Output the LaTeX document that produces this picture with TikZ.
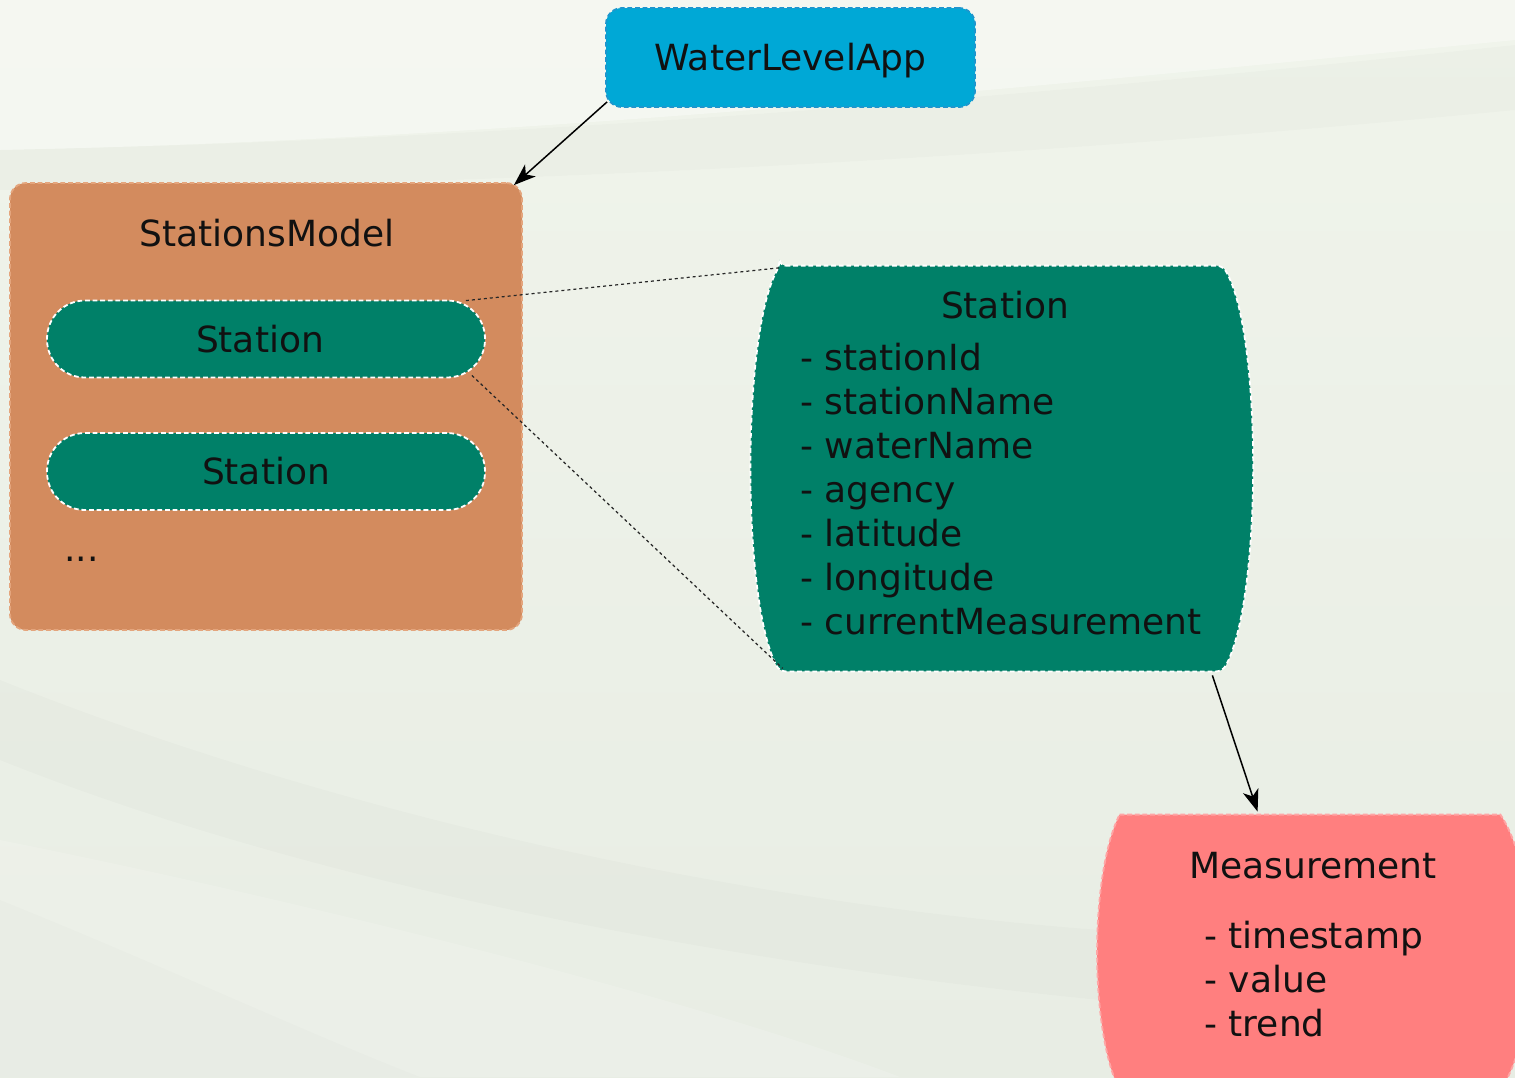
\documentclass[tikz,border=0pt]{standalone}
\usepackage{fontspec}
\setmainfont{DejaVu Sans}
\usetikzlibrary{arrows.meta,calc}
\definecolor{bgA}{RGB}{240,244,235}
\definecolor{bgB}{RGB}{232,237,228}
\definecolor{appblue}{RGB}{0,168,214}
\definecolor{appedge}{RGB}{30,150,205}
\definecolor{modelorange}{RGB}{211,139,94}
\definecolor{modeledge}{RGB}{228,165,125}
\definecolor{stgreen}{RGB}{0,128,104}
\definecolor{measred}{RGB}{255,127,127}
\definecolor{measedge}{RGB}{255,165,165}
\definecolor{inktext}{RGB}{17,17,17}
\begin{document}
\begin{tikzpicture}[x=0.5pt,y=-0.5pt,
  font=\fontsize{18}{22}\selectfont, text=inktext,
  dashedge/.style={line width=0.9pt, dash pattern=on 2.4pt off 1.4pt},
  appbox/.style={shape=rectangle, rounded corners=8pt, fill=appblue, draw=appedge, dashedge,
     minimum width=184.5pt, minimum height=49.5pt, inner sep=0pt, text height=13.3pt, text depth=0pt},
  modelbox/.style={shape=rectangle, rounded corners=8pt, fill=modelorange, draw=modeledge, dashedge,
     minimum width=256pt, minimum height=223.5pt, inner sep=0pt},
  pillbox/.style={shape=rectangle, rounded corners=19pt, fill=stgreen, draw=white, dashedge,
     minimum width=219pt, minimum height=38.5pt, inner sep=0pt, text height=13.3pt, text depth=0pt},
  frame/.style={shape=rectangle, draw=none, inner sep=0pt},
  txt/.style={inner sep=0pt},
  link/.style={draw=black, line width=0.75pt, -{Stealth[length=11pt,width=8pt,inset=3pt]}},
  zoomline/.style={draw=black!85, line width=0.6pt, dash pattern=on 1.5pt off 1.5pt}
]
\useasboundingbox (0,0) rectangle (1515,1077);
\begin{scope}
\clip (0,0) rectangle (1515,1077);
% background
\shade[top color=bgA, bottom color=bgB] (0,0) rectangle (1515,1077);
\fill[white, opacity=0.35] (0,0) -- (1515,0) -- (1515,40) .. controls (1000,90) and (500,140) .. (0,150) -- cycle;
\fill[black, opacity=0.015] (0,150) .. controls (500,140) and (1000,100) .. (1515,45) -- (1515,110) .. controls (1000,160) and (500,185) .. (0,190) -- cycle;
\fill[black, opacity=0.015] (0,680) .. controls (300,800) and (700,900) .. (1100,930) -- (1100,1000) .. controls (700,960) and (300,880) .. (0,760) -- cycle;
\fill[white, opacity=0.15] (0,840) .. controls (300,900) and (700,1000) .. (900,1077) -- (0,1077) -- cycle;
\fill[black, opacity=0.012] (0,900) .. controls (150,960) and (300,1030) .. (420,1077) -- (0,1077) -- cycle;

% nodes
\node[appbox] (app) at (790.5,57.5) {WaterLevelApp};
\node[modelbox] (sm) at (266,406.5) {};
\node[txt, anchor=base] (smtitle) at (267,246) {StationsModel};
\node[pillbox] (s1) at (266,339) {\hspace*{-6pt}Station};
\node[pillbox] (s2) at (266,471.5) {Station};
\node[txt, anchor=base west] (dots) at (64,561) {...};

% big station (barrel)
\node[frame, minimum width=221pt, minimum height=202.5pt] (st) at (1001,468.5) {};
\fill[stgreen, rounded corners=3pt] (st.north west) -- (st.north east)
   .. controls ($(st.north east)+(40,65)$) and ($(st.south east)+(40,-70)$) .. (st.south east)
   -- (st.south west)
   .. controls ($(st.south west)+(-38,-70)$) and ($(st.north west)+(-38,70)$) .. (st.north west) -- cycle;
\draw[white, dashedge, rounded corners=3pt] (st.north west) -- (st.north east)
   .. controls ($(st.north east)+(40,65)$) and ($(st.south east)+(40,-70)$) .. (st.south east)
   -- (st.south west)
   .. controls ($(st.south west)+(-38,-70)$) and ($(st.north west)+(-38,70)$) .. (st.north west) -- cycle;
\node[txt, anchor=base] (sttitle) at (1005,318) {Station};
\foreach \t [count=\i from 0] in {stationId,stationName,waterName,agency,latitude,longitude,currentMeasurement}
  \node[txt, anchor=base west] (attr\i) at (800,370+44*\i) {- \t};

% measurement (barrel)
\node[frame, minimum width=190pt, minimum height=137.5pt] (ms) at (1310,952.5) {};
\fill[measred] (ms.north west) -- (ms.north east)
   .. controls ($(ms.north east)+(40,60)$) and ($(ms.south east)+(40,-60)$) .. (ms.south east)
   -- (ms.south west)
   .. controls ($(ms.south west)+(-30,-60)$) and ($(ms.north west)+(-30,60)$) .. (ms.north west) -- cycle;
\draw[measedge, dashedge] (ms.north west) -- (ms.north east)
   .. controls ($(ms.north east)+(40,60)$) and ($(ms.south east)+(40,-60)$) .. (ms.south east)
   -- (ms.south west)
   .. controls ($(ms.south west)+(-30,-60)$) and ($(ms.north west)+(-30,60)$) .. (ms.north west) -- cycle;
\node[txt, anchor=base] (mstitle) at (1313,878) {Measurement};
\node[txt, anchor=base west] (m0) at (1204,948) {- timestamp};
\node[txt, anchor=base west] (m1) at (1204,992) {- value};
\node[txt, anchor=base west] (m2) at (1204,1036) {- trend};

% connectors
\draw[link] ($(app.south west)+(2,-6)$) -- ($(sm.north east)+(-9,3)$);
\draw[link] ($(st.south east)+(-10,4)$) -- ($(ms.north west)+(138,-3)$);
\draw[zoomline] ($(s1.north east)+(-20,1)$) -- ($(st.north west)+(2,2)$);
\draw[zoomline] ($(s1.south east)+(-14,-3)$) -- ($(st.south west)+(3,-3)$);
\end{scope}
\end{tikzpicture}
\end{document}
